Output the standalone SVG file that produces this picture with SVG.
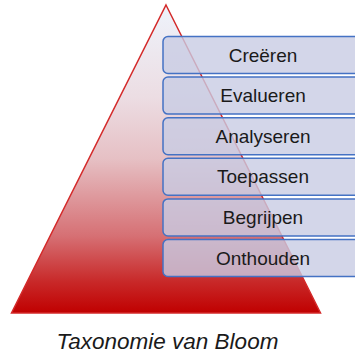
<svg xmlns="http://www.w3.org/2000/svg" width="355" height="354" viewBox="0 0 355 354">
<defs>
<linearGradient id="tri" x1="0" y1="5" x2="0" y2="313" gradientUnits="userSpaceOnUse">
<stop offset="0" stop-color="#eef3fb"/>
<stop offset="0.3" stop-color="#ecdde3"/>
<stop offset="0.5" stop-color="#e6c0c4"/>
<stop offset="0.75" stop-color="#d67074"/>
<stop offset="0.9" stop-color="#c82828"/>
<stop offset="1" stop-color="#c00000"/>
</linearGradient>
<style>
.box{fill:#c8cce4;fill-opacity:0.8;stroke:#4472c4;stroke-width:1.5}
.lbl{font-family:"Liberation Sans",Arial,sans-serif;font-size:19px;fill:#1a1a1a;text-anchor:middle}
.cap{font-family:"Liberation Sans",Arial,sans-serif;font-size:22.5px;font-style:italic;fill:#1a1a1a;text-anchor:middle}
</style>
</defs>
<g id="pyramid">
<polygon points="166,5 320.5,313 11.5,313" fill="url(#tri)" stroke="#d42a2a" stroke-width="1.5" stroke-linejoin="miter"/>
</g>
<g id="connectors"></g>
<g id="creeren"><rect class="box" x="163" y="36.5" width="200" height="37" rx="5"/><text class="lbl" x="263" y="61.5">Creëren</text></g>
<g id="evalueren"><rect class="box" x="163" y="77.1" width="200" height="37" rx="5"/><text class="lbl" x="263" y="102.1">Evalueren</text></g>
<g id="analyseren"><rect class="box" x="163" y="117.7" width="200" height="37" rx="5"/><text class="lbl" x="263" y="142.7">Analyseren</text></g>
<g id="toepassen"><rect class="box" x="163" y="158.3" width="200" height="37" rx="5"/><text class="lbl" x="263" y="183.3">Toepassen</text></g>
<g id="begrijpen"><rect class="box" x="163" y="198.9" width="200" height="37" rx="5"/><text class="lbl" x="263" y="223.9">Begrijpen</text></g>
<g id="onthouden"><rect class="box" x="163" y="239.5" width="200" height="37" rx="5"/><text class="lbl" x="263" y="264.5">Onthouden</text></g>
<g id="caption"><text class="cap" x="167.5" y="349">Taxonomie van Bloom</text></g>
</svg>
